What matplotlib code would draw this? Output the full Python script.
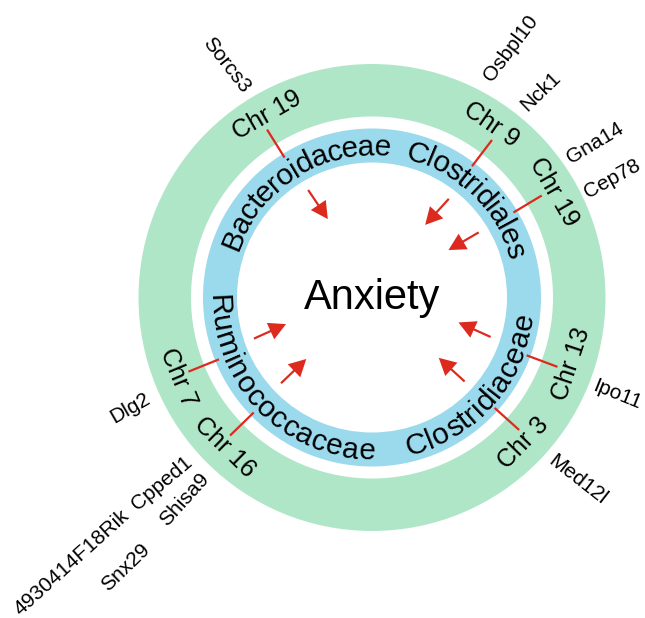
import numpy as np
import matplotlib
matplotlib.use("Agg")
import matplotlib.pyplot as plt
from matplotlib.patches import Wedge, FancyArrow
from matplotlib.textpath import TextToPath
from matplotlib.font_manager import FontProperties

plt.rcParams['font.family'] = ['Liberation Sans', 'DejaVu Sans']

# taxa in the blue ring (angle = centre of the word, degrees ccw from east)
taxa = ['Bacteroidaceae', 'Clostridiales', 'Ruminococcaceae', 'Clostridiaceae']
taxa_angle = [122, 46, 225, 318.5]

# chromosome labels in the green ring
chroms = ['Chr 19', 'Chr 9', 'Chr 19', 'Chr 13', 'Chr 3', 'Chr 7', 'Chr 16']
chrom_angle = [120, 55.5, 30, -18.4, -44, 202.5, 225.6]
link_angle = [122, 52.7, 31, -20.5, -42, 202, 224.2]

# arrows towards the trait
arrow_tail = [120.7, 52.1, 31.4, 199.2, 223.3, -18.4, -42.2]
arrow_tip = [119.4, 53.8, 31.8, 197.2, 223.1, -16.1, -42.1]

# candidate genes outside the rings
genes = ['Sorcs3', 'Osbpl10', 'Nck1', 'Gna14', 'Cep78', 'Ipo11', 'Med12l',
         'Dlg2', 'Cpped1', 'Shisa9', '4930414F18Rik', 'Snx29']
gene_r = [274.5, 285.6, 266, 271, 268, 264, 275, 266, 280, 276, 400, 365.6]
gene_angle = [122.1, 60.9, 50.6, 34.7, 26.4, -21.5, -41.5, 204.5, 221.5,
              227.1, 221.4, 227.7]
gene_rot = [-52, 53, 44, 31, 29, -22, -38, 30, 40, 48, 42, 44]

trait = 'Anxiety'

green = '#b0e6c8'
blue = '#9bd9ec'
red = '#dc2a1e'

W, H = 645, 618
cx, cy = 372, 618 - 297.5

fig = plt.figure(figsize=(W / 100, H / 100), dpi=100)
ax = fig.add_axes([0, 0, 1, 1])
ax.set_xlim(0, W)
ax.set_ylim(0, H)
ax.axis('off')


def pol(r, a):
    t = np.deg2rad(a)
    return cx + r * np.cos(t), cy + r * np.sin(t)


ax.add_patch(Wedge((cx, cy), 233.5, 0, 360, width=233.5 - 181, color=green, lw=0))
ax.add_patch(Wedge((cx, cy), 169, 0, 360, width=169 - 135, color=blue, lw=0))

ax.text(cx, cy, trait, fontsize=30, ha='center', va='center')

# curved text, one character at a time
tsize = 21.5
t2p = TextToPath()
fp = FontProperties(family='Liberation Sans', size=tsize)


def width_px(s):
    if not s:
        return 0.0
    w, h, d = t2p.get_text_width_height_descent(s, fp, ismath=False)
    return w * 100 / 72


r_mid = 152
for name, ang in zip(taxa, taxa_angle):
    top = np.sin(np.deg2rad(ang)) > 0
    total = width_px(name)
    for i, ch in enumerate(name):
        xc = (width_px(name[:i]) + width_px(name[:i + 1])) / 2
        off = np.rad2deg((total / 2 - xc) / r_mid)
        if top:
            a = ang + off
            rb = r_mid - 10
            rot = a - 90
        else:
            a = ang - off
            rb = r_mid + 10
            rot = a + 90
        x, y = pol(rb, a)
        ax.text(x, y, ch, fontsize=tsize, ha='center', va='baseline',
                rotation=rot, rotation_mode='anchor')

for name, ang in zip(chroms, chrom_angle):
    x, y = pol(210, ang)
    rot = ang - 90 if np.sin(np.deg2rad(ang)) > 0 else ang + 90
    ax.text(x, y, name, fontsize=18, ha='center', va='center',
            rotation=rot, rotation_mode='anchor')

for ang in link_angle:
    x0, y0 = pol(165, ang)
    x1, y1 = pol(198, ang)
    ax.plot([x0, x1], [y0, y1], color=red, lw=1.6, solid_capstyle='butt')

for a0, a1 in zip(arrow_tail, arrow_tip):
    x0, y0 = pol(125, a0)
    x1, y1 = pol(90, a1)
    ax.add_patch(FancyArrow(x0, y0, x1 - x0, y1 - y0, width=2.2,
                            head_width=18, head_length=17,
                            length_includes_head=True, color=red, lw=0))

for name, r, ang, rot in zip(genes, gene_r, gene_angle, gene_rot):
    x, y = pol(r, ang)
    ax.text(x, y, name, fontsize=15, ha='center', va='center',
            rotation=rot, rotation_mode='anchor')

fig.savefig('out.png', dpi=100)
